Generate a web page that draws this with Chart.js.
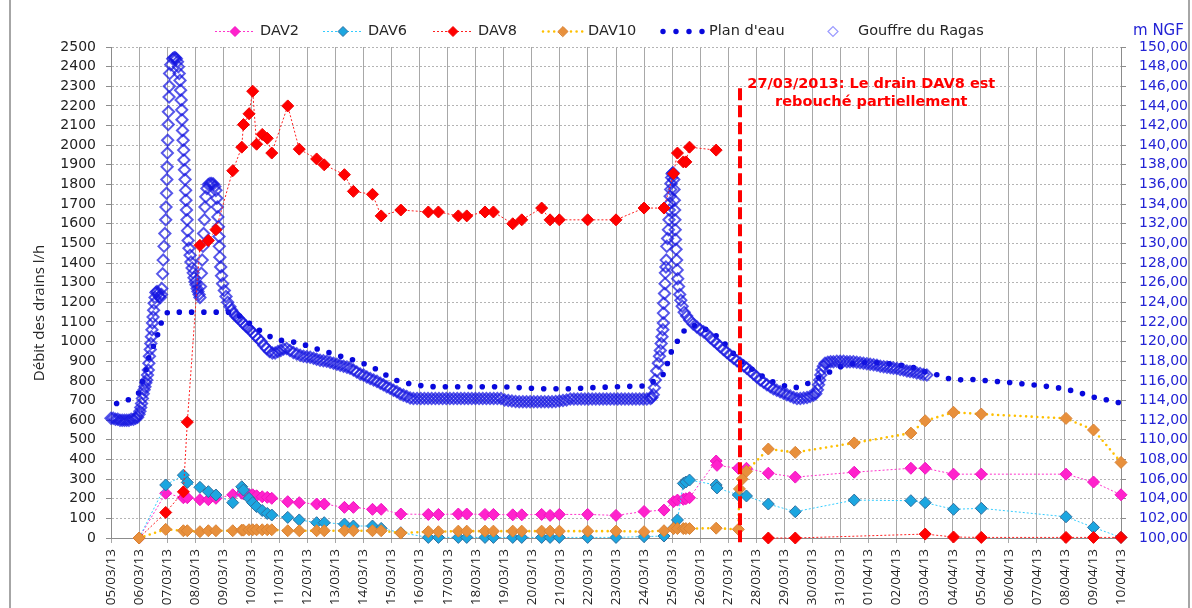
<!DOCTYPE html>
<html><head><meta charset="utf-8">
<script src="https://cdn.jsdelivr.net/npm/chart.js@4.4.1/dist/chart.umd.min.js"></script>
<style>
html,body{margin:0;padding:0;background:#fff;}
#wrap{position:relative;width:1192px;height:608px;overflow:hidden;background:#fff;}
canvas{position:absolute;left:0;top:0;}
.frame{position:absolute;top:0;width:2px;height:608px;background:#a6a6a6;}
</style></head><body>
<div id="wrap"><canvas id="c" width="1192" height="608"></canvas><div class="frame" style="left:9px"></div><div class="frame" style="left:1188px"></div></div>
<script>
// ---------- DATA ----------
const dateLabels = ['05/03/13','06/03/13','07/03/13','08/03/13','09/03/13','10/03/13','11/03/13','12/03/13','13/03/13','14/03/13','15/03/13','16/03/13','17/03/13','18/03/13','19/03/13','20/03/13','21/03/13','22/03/13','23/03/13','24/03/13','25/03/13','26/03/13','27/03/13','28/03/13','29/03/13','30/03/13','31/03/13','01/04/13','02/04/13','03/04/13','04/04/13','05/04/13','06/04/13','07/04/13','08/04/13','09/04/13','10/04/13'];

// days since 05/03/13
const dav8Days   = [1.0,1.95,2.58,2.72,3.17,3.47,3.74,4.34,4.66,4.72,4.92,5.05,5.19,5.39,5.57,5.73,6.30,6.71,7.33,7.60,8.32,8.64,9.32,9.63,10.33,11.31,11.67,12.38,12.68,13.33,13.63,14.32,14.64,15.35,15.65,15.98,16.99,18.0,19.0,19.71,20.05,20.19,20.40,20.49,20.62,21.57,22.5,23.43,24.39,29.02,30.03,31.02,34.04,35.02,36.0];
const dav8Values = [0,130,235,590,1490,1515,1570,1870,1990,2105,2160,2275,2005,2055,2035,1960,2200,1980,1930,1900,1850,1765,1750,1640,1670,1660,1660,1640,1640,1660,1660,1600,1620,1680,1620,1620,1620,1620,1680,1680,1855,1960,1915,1915,1990,1975,null,0,0,20,5,3,3,3,3];

const dav2Days   = [1.0,1.95,2.58,2.72,3.17,3.47,3.74,4.34,4.66,4.72,4.92,5.05,5.19,5.39,5.57,5.73,6.30,6.71,7.33,7.60,8.32,8.64,9.32,9.63,10.33,11.31,11.67,12.38,12.68,13.33,13.63,14.32,14.64,15.35,15.65,15.98,16.99,18.0,19.0,19.71,20.05,20.19,20.40,20.49,20.62,21.57,21.60,22.36,22.65,23.43,24.39,26.49,28.51,29.02,30.03,31.02,34.04,35.02,36.0];
const dav2Values = [0,228,205,205,195,195,202,220,228,225,222,220,215,210,207,202,185,180,173,173,156,156,146,146,122,120,120,122,122,120,120,118,118,120,115,120,120,115,135,142,185,193,197,200,205,392,370,355,355,330,310,335,355,355,325,325,325,285,220];

const dav6Days   = [1.0,1.95,2.58,2.72,3.17,3.47,3.74,4.34,4.66,4.72,4.92,5.05,5.19,5.39,5.57,5.73,6.30,6.71,7.33,7.60,8.32,8.64,9.32,9.63,10.33,11.31,11.67,12.38,12.68,13.33,13.63,14.32,14.64,15.35,15.65,15.98,16.99,18.0,19.0,19.71,20.05,20.19,20.40,20.49,20.62,21.57,21.60,22.36,22.65,23.43,24.39,26.49,28.51,29.02,30.03,31.02,34.04,35.02,36.0];
const dav6Values = [0,270,320,283,258,236,219,180,261,244,202,180,160,140,125,117,105,92,78,78,71,61,61,49,27,3,3,3,3,3,3,3,3,3,3,3,3,3,7,10,50,92,278,285,295,270,255,219,214,173,134,193,190,180,146,151,108,54,3];

const dav10Days   = [1.0,1.95,2.58,2.72,3.17,3.47,3.74,4.34,4.66,4.72,4.92,5.05,5.19,5.39,5.57,5.73,6.30,6.71,7.33,7.60,8.32,8.64,9.32,9.63,10.33,11.31,11.67,12.38,12.68,13.33,13.63,14.32,14.64,15.35,15.65,15.98,16.99,18.0,19.0,19.71,20.05,20.19,20.40,20.49,20.62,21.57,22.36,22.40,22.50,22.65,23.43,24.39,26.49,28.51,29.02,30.03,31.02,34.04,35.02,36.0];
const dav10Values = [0,44,37,37,32,37,37,37,40,40,42,42,42,42,42,42,37,37,37,37,37,37,37,37,25,32,32,35,35,35,35,35,35,35,35,35,35,35,32,37,48,48,48,48,48,50,44,250,300,340,453,436,484,534,597,640,631,609,550,385];

// Plan d'eau [day, m NGF]
const planDeau = [[0.2,113.7],[0.65,114.1],[1.0,114.8],[1.14,116.1],[1.27,117.3],[1.35,118.4],[1.5,119.45],[1.64,120.5],[1.75,121.5],[1.85,122.5],[2.03,123.0],[4.4,123.0],[5.2,121.3],[5.85,120.2],[6.27,120.06],[6.7,119.86],[7.13,119.45],[7.56,119.04],[7.95,118.74],[8.38,118.33],[8.77,118.02],[9.13,117.62],[9.52,117.11],[9.91,116.39],[10.3,115.89],[10.73,115.68],[11.12,115.48],[11.55,115.4],[14.0,115.4],[15.3,115.2],[16.3,115.2],[17.5,115.35],[19.1,115.5],[19.45,116.16],[19.75,116.8],[19.9,118.6],[20.11,119.65],[20.31,120.67],[20.52,121.42],[20.9,121.7],[21.35,121.0],[21.64,120.47],[21.95,119.58],[22.17,118.84],[22.48,117.95],[22.78,117.31],[23.1,116.7],[23.46,116.02],[23.85,115.65],[24.27,115.24],[24.66,115.48],[25.03,116.02],[25.42,116.6],[25.74,117.11],[26.2,117.7],[27.0,117.9],[27.83,117.72],[28.27,117.55],[28.7,117.31],[29.08,116.83],[29.48,116.6],[29.94,116.16],[30.37,116.09],[30.8,116.16],[31.23,116.02],[31.69,115.92],[32.12,115.81],[32.55,115.68],[33.0,115.55],[33.44,115.41],[33.89,115.24],[34.3,114.97],[34.72,114.63],[35.1,114.29],[35.54,114.05],[35.94,113.78]];

// Gouffre du Ragas [day, m NGF]
const gouffre = [[0.00,112.2],[0.08,112.2],[0.16,112.1],[0.24,112.1],[0.32,112.0],[0.40,112.0],[0.48,112.0],[0.56,112.0],[0.64,112.0],[0.72,112.1],[0.80,112.1],[0.88,112.2],[0.95,112.3],
[1.00,112.6],[1.03,112.9],[1.06,113.3],[1.09,113.7],[1.12,114.2],[1.15,114.7],[1.18,115.1],[1.21,115.4],[1.24,115.8],[1.27,116.1],[1.30,116.6],[1.33,117.1],[1.35,117.8],[1.37,118.5],[1.40,119.2],[1.42,119.8],[1.44,120.5],[1.46,121.2],[1.48,121.9],[1.50,122.5],[1.52,123.2],[1.54,123.9],[1.57,124.5],[1.60,125.0],[1.64,125.1],[1.68,124.9],[1.72,124.6],[1.76,124.5],[1.80,124.8],
[1.81,125.4],[1.84,126.9],[1.86,128.3],[1.89,129.7],[1.92,131.0],[1.95,132.4],[1.96,133.7],[1.98,135.1],[1.99,136.5],[2.00,137.8],[2.01,139.2],[2.02,140.5],[2.04,142.1],[2.05,143.4],[2.07,144.9],[2.08,146.0],[2.09,147.3],[2.13,148.2],[2.20,148.8],
[2.25,148.9],[2.29,148.9],[2.33,148.8],[2.37,148.5],[2.40,148.0],
[2.43,147.3],[2.46,146.6],[2.48,145.6],[2.50,144.6],[2.52,143.6],[2.53,142.6],[2.55,141.5],[2.57,140.5],[2.59,139.5],[2.60,138.5],[2.62,137.5],[2.64,136.5],[2.66,135.4],[2.67,134.4],[2.69,133.4],[2.71,132.4],[2.73,131.3],[2.75,130.3],[2.78,129.5],[2.82,128.8],[2.85,128.1],[2.89,127.5],[2.93,127.0],[2.96,126.5],[3.00,126.1],[3.03,125.8],[3.07,125.4],[3.10,125.1],[3.14,124.8],[3.17,124.5],
[3.19,125.6],[3.22,126.95],[3.25,128.3],[3.28,129.7],[3.30,131.0],[3.33,132.4],[3.35,133.7],[3.38,134.75],[3.42,135.6],[3.47,136.0],[3.53,136.1],[3.59,136.1],[3.65,136.05],[3.70,135.8],[3.74,135.4],[3.77,134.6],[3.79,133.7],[3.81,132.7],[3.83,131.7],[3.85,130.7],[3.86,129.7],[3.88,128.6],[3.91,127.6],[3.94,126.7],[3.98,125.9],[4.04,125.2],[4.10,124.6],[4.16,124.0],[4.24,123.55],[4.30,123.2],[4.36,122.9],[4.45,122.6],[4.53,122.4],[4.60,122.2],[4.70,121.9],[4.80,121.6],[4.88,121.4],[4.96,121.2],[5.05,120.9],[5.15,120.6],[5.25,120.3],[5.35,120.0],[5.45,119.6],[5.55,119.3],[5.65,119.0],[5.75,118.85],[5.85,118.85],[5.95,119.0],[6.05,119.1],[6.15,119.25],[6.26,119.3],[6.38,119.1],[6.50,118.9],[6.62,118.75],[6.74,118.6],[6.86,118.5],[6.98,118.45],[7.10,118.4],[7.22,118.3],[7.33,118.2],[7.45,118.1],[7.57,118.05],[7.69,118.0],[7.81,117.9],[7.93,117.8],[8.05,117.7],[8.17,117.6],[8.29,117.5],[8.41,117.4],[8.52,117.3],[8.64,117.1],[8.76,116.9],[8.88,116.7],[9.00,116.6],[9.12,116.4],[9.24,116.25],[9.36,116.1],[9.48,115.95],[9.60,115.75],[9.71,115.6],[9.83,115.4],[9.95,115.25],[10.07,115.05],[10.19,114.9],[10.30,114.7],[10.42,114.55],[10.54,114.4],[10.66,114.25],[10.78,114.2],
[10.91,114.2],[11.04,114.2],[11.17,114.2],[11.30,114.2],[11.43,114.2],[11.56,114.2],[11.69,114.2],[11.82,114.2],[11.95,114.2],[12.08,114.2],[12.21,114.2],[12.34,114.2],[12.47,114.2],[12.60,114.2],[12.73,114.2],[12.86,114.2],[12.99,114.2],[13.12,114.2],[13.25,114.2],[13.38,114.2],[13.51,114.2],[13.64,114.2],[13.77,114.2],[13.90,114.2],[14.03,114.05],[14.16,114.0],[14.29,113.95],[14.42,113.9],[14.55,113.88],[14.68,113.88],[14.81,113.88],[14.94,113.88],[15.07,113.88],[15.20,113.88],[15.33,113.88],[15.46,113.88],[15.59,113.88],[15.72,113.88],[15.85,113.9],[15.98,113.95],[16.11,114.0],[16.24,114.05],[16.37,114.15],[16.50,114.15],[16.63,114.15],[16.76,114.15],[16.89,114.15],[17.02,114.15],[17.15,114.15],[17.28,114.15],[17.41,114.15],[17.54,114.15],[17.67,114.15],[17.80,114.15],[17.93,114.15],[18.06,114.15],[18.19,114.15],[18.32,114.15],[18.45,114.15],[18.58,114.15],[18.71,114.15],[18.84,114.15],[18.97,114.15],[19.10,114.15],[19.23,114.2],
[19.28,114.3],[19.33,114.6],[19.37,115.3],[19.40,116.1],[19.45,117.0],[19.51,117.8],[19.55,118.5],[19.58,119.1],[19.61,119.8],[19.64,120.5],[19.67,121.2],[19.69,121.9],[19.69,122.9],[19.70,123.9],[19.73,124.9],[19.75,125.9],[19.76,127.0],[19.78,127.6],[19.79,128.3],[19.81,129.7],[19.84,130.5],[19.87,131.4],[19.89,132.4],[19.90,133.4],[19.92,134.1],[19.93,134.8],[19.95,135.5],[19.96,136.1],[19.98,136.7],[20.00,137.1],[20.03,137.2],
[20.06,136.5],[20.07,135.5],[20.08,134.4],[20.09,133.4],[20.10,132.4],[20.11,131.4],[20.12,130.4],[20.14,129.4],[20.16,128.3],[20.18,127.3],[20.20,126.4],[20.23,125.6],[20.27,124.8],[20.31,124.2],[20.36,123.6],[20.43,123.0],[20.52,122.6],[20.62,122.2],[20.75,121.8],[20.88,121.5],[21.00,121.2],[21.12,121.0],[21.24,120.8],[21.36,120.4],[21.48,120.1],[21.60,119.8],[21.71,119.5],[21.83,119.2],[21.95,118.9],[22.07,118.6],[22.19,118.3],[22.31,118.05],[22.43,117.8],[22.55,117.55],[22.66,117.3],[22.78,117.0],[22.90,116.7],[23.02,116.4],[23.14,116.1],[23.26,115.85],[23.38,115.6],[23.50,115.4],[23.61,115.2],[23.73,115.05],[23.85,114.9],[23.97,114.75],[24.09,114.6],[24.21,114.45],[24.33,114.3],[24.45,114.2],[24.57,114.2],[24.69,114.25],[24.81,114.3],[24.92,114.4],[25.04,114.55],[25.12,114.7],[25.18,115.1],[25.22,115.6],[25.26,116.1],[25.30,116.6],[25.34,117.1],[25.39,117.5],[25.45,117.8],[25.55,117.9],[25.65,117.95],[25.75,117.95],[25.87,118.0],[25.99,118.0],[26.11,118.0],[26.23,117.95],[26.34,117.95],[26.46,117.95],[26.58,117.9],[26.70,117.85],[26.82,117.8],[26.94,117.75],[27.06,117.7],[27.18,117.65],[27.30,117.6],[27.42,117.5],[27.54,117.45],[27.66,117.4],[27.78,117.35],[27.89,117.3],[28.01,117.25],[28.13,117.15],[28.25,117.1],[28.37,117.0],[28.48,116.95],[28.60,116.9],[28.72,116.8],[28.84,116.75],[28.96,116.65],[29.08,116.6]];

const eventDay = 22.42;            // 27/03/2013 vertical marker
const eventLineTop = 2290;         // l/h, top of the dashed marker
const eventText = ['27/03/2013: Le drain DAV8 est', 'rebouché partiellement'];
const yTitle = 'Débit des drains l/h';
const y1Title = 'm NGF';

// ---------- BUILD ----------
const pts = (xs, ys) => xs.map((x, i) => ({x: x, y: ys[i]}));
const pairs = arr => arr.map(p => ({x: p[0], y: p[1]}));

const DAV_STYLE = (line, fill, edge) => ({
  showLine: true, borderColor: line, borderWidth: 1, borderDash: [2, 2],
  pointStyle: 'rectRot', pointRadius: 6, pointBackgroundColor: fill,
  pointBorderColor: edge, pointBorderWidth: 1, yAxisID: 'y', clip: false
});

const datasets = [
  Object.assign({label: 'DAV2', data: pts(dav2Days, dav2Values), order: 4}, DAV_STYLE('#FF33CC', '#FF22CC', '#F010C0')),
  Object.assign({label: 'DAV6', data: pts(dav6Days, dav6Values), order: 3}, DAV_STYLE('#33CCFF', '#1CA6E0', '#2F6F9F')),
  Object.assign({label: 'DAV8', data: pts(dav8Days, dav8Values), order: 2}, DAV_STYLE('#FF2020', '#FF0000', '#F00000')),
  Object.assign({label: 'DAV10', data: pts(dav10Days, dav10Values), order: 1}, DAV_STYLE('#FFC000', '#E8903C', '#D98234'),
    {borderWidth: 2.6, borderDash: [0, 5.6], borderCapStyle: 'round'}),
  {label: "Plan d'eau", data: pairs(planDeau), yAxisID: 'y1', showLine: true, borderColor: '#0808DC',
   borderWidth: 5.6, borderDash: [0, 12.3], borderCapStyle: 'round', pointRadius: 0, order: 6, clip: false},
  {label: 'Gouffre du Ragas', data: pairs(gouffre), yAxisID: 'y1', showLine: false, pointStyle: 'rectRot',
   pointRadius: 5.6, pointBorderWidth: 2, pointBorderColor: 'rgba(22,22,225,0.72)',
   pointBackgroundColor: 'rgba(0,0,0,0)', order: 5, clip: false}
];

const LEG_Y = 31.5;
const legendSlots = [215, 323, 433, 543, 661, 813];

const overlay = {
  id: 'overlay',
  afterDatasetsDraw(chart) {
    const {ctx, scales} = chart;
    const x = scales.x.getPixelForValue(eventDay);
    ctx.save();
    ctx.strokeStyle = '#FF0000'; ctx.lineWidth = 4; ctx.setLineDash([12, 5]);
    ctx.beginPath(); ctx.moveTo(x, scales.y.getPixelForValue(eventLineTop)); ctx.lineTo(x, scales.y.bottom + 8); ctx.stroke();
    ctx.setLineDash([]);
    ctx.fillStyle = '#FF0000'; ctx.font = 'bold 14.5px "DejaVu Sans"'; ctx.textAlign = 'center'; ctx.textBaseline = 'middle';
    const cx = scales.x.getPixelForValue(27.1);
    ctx.fillText(eventText[0], cx, scales.y.getPixelForValue(2312));
    ctx.fillText(eventText[1], cx, scales.y.getPixelForValue(2220));
    ctx.restore();
  },
  afterDraw(chart) {
    const {ctx} = chart;
    ctx.save();
    ctx.translate(40, 313); ctx.rotate(-Math.PI / 2);
    ctx.fillStyle = '#262626'; ctx.font = '15px "Open Sans"'; ctx.textAlign = 'center'; ctx.textBaseline = 'middle';
    ctx.fillText(yTitle, 0, 0);
    ctx.restore();
    ctx.save();
    ctx.fillStyle = '#2323D5'; ctx.font = '15px "DejaVu Sans"'; ctx.textBaseline = 'middle'; ctx.textAlign = 'left';
    ctx.fillText(y1Title, 1133, LEG_Y);
    ctx.font = '14.5px "DejaVu Sans"';
    chart.data.datasets.forEach((ds, i) => {
      const x0 = legendSlots[i];
      ctx.save();
      if (i < 4) {
        ctx.strokeStyle = ds.borderColor; ctx.lineWidth = ds.borderWidth; ctx.setLineDash(ds.borderDash);
        ctx.lineCap = ds.borderCapStyle || 'butt';
        ctx.beginPath(); ctx.moveTo(x0, LEG_Y); ctx.lineTo(x0 + 40, LEG_Y); ctx.stroke();
        ctx.setLineDash([]);
        ctx.fillStyle = ds.pointBackgroundColor; ctx.strokeStyle = ds.pointBorderColor; ctx.lineWidth = 1;
        ctx.beginPath(); ctx.moveTo(x0 + 15, LEG_Y); ctx.lineTo(x0 + 20, LEG_Y - 5); ctx.lineTo(x0 + 25, LEG_Y); ctx.lineTo(x0 + 20, LEG_Y + 5); ctx.closePath(); ctx.fill(); ctx.stroke();
      } else if (i === 4) {
        ctx.fillStyle = ds.borderColor;
        for (let k = 0; k < 4; k++) { ctx.beginPath(); ctx.arc(x0 + 2 + k * 13, LEG_Y, 2.7, 0, Math.PI * 2); ctx.fill(); }
      } else {
        ctx.strokeStyle = '#9A9AFF'; ctx.lineWidth = 1.2;
        ctx.beginPath(); ctx.moveTo(x0 + 15, LEG_Y); ctx.lineTo(x0 + 20, LEG_Y - 5); ctx.lineTo(x0 + 25, LEG_Y); ctx.lineTo(x0 + 20, LEG_Y + 5); ctx.closePath(); ctx.stroke();
      }
      ctx.restore();
      ctx.fillStyle = '#262626'; ctx.textAlign = 'left'; ctx.textBaseline = 'middle';
      ctx.fillText(ds.label, x0 + (i === 4 ? 48 : 45), LEG_Y);
    });
    ctx.restore();
  }
};

new Chart(document.getElementById('c'), {
  type: 'scatter',
  data: {datasets: datasets},
  options: {
    responsive: false, animation: false, events: [],
    layout: {padding: {top: 47, left: 0, right: 0, bottom: 0}},
    plugins: {legend: {display: false}, tooltip: {enabled: false}},
    scales: {
      x: {
        type: 'linear', position: 'bottom', min: 0, max: 36,
        afterFit: s => { s.height = 70; },
        ticks: {stepSize: 1, autoSkip: false, maxTicksLimit: 200, minRotation: 90, maxRotation: 90, padding: 6,
                font: {family: 'Open Sans', size: 13.5}, color: '#222',
                callback: v => dateLabels[v] !== undefined ? dateLabels[v] : ''},
        grid: {color: '#A8A8A8', lineWidth: 1, tickLength: 5},
        border: {color: '#8C8C8C', width: 1}
      },
      y: {
        type: 'linear', position: 'left', min: 0, max: 2500,
        afterFit: s => { s.width = 111; },
        ticks: {stepSize: 100, autoSkip: false, maxTicksLimit: 200, padding: 10, font: {family: 'DejaVu Sans', size: 14}, color: '#222',
                callback: v => String(v)},
        grid: {color: '#B4B4B4', lineWidth: 1, tickLength: 5, tickColor: '#8C8C8C', tickBorderDash: []},
        border: {color: '#8C8C8C', width: 1, dash: [2, 2]}
      },
      y1: {
        type: 'linear', position: 'right', min: 100, max: 150,
        afterFit: s => { s.width = 71; },
        ticks: {stepSize: 2, autoSkip: false, maxTicksLimit: 200, padding: 13, font: {family: 'DejaVu Sans', size: 14}, color: '#2323D5',
                callback: v => v.toFixed(2).replace('.', ',')},
        grid: {drawOnChartArea: false, tickLength: 5, color: '#8C8C8C'},
        border: {color: '#8C8C8C', width: 1}
      }
    }
  },
  plugins: [overlay]
});
</script>
</body></html>
